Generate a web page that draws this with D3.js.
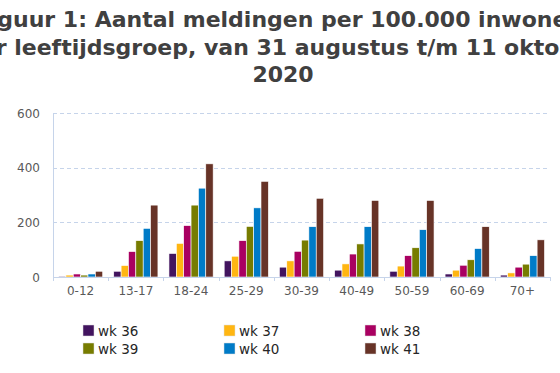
<!DOCTYPE html>
<html>
<head>
<meta charset="utf-8">
<script src="https://cdn.jsdelivr.net/npm/d3@7"></script>
<style>
  body { margin: 0; background: #fff; overflow: hidden; }
  svg { display: block; }
</style>
</head>
<body>
<div id="chart"></div>
<script>
var titleLines = ['Figuur 1: Aantal meldingen per 100.000 inwoners',
                  'per leeftijdsgroep, van 31 augustus t/m 11 oktober',
                  '2020'];
var categories = ['0-12', '13-17', '18-24', '25-29', '30-39', '40-49', '50-59', '60-69', '70+'];
var seriesNames = ['wk 36', 'wk 37', 'wk 38', 'wk 39', 'wk 40', 'wk 41'];
var seriesColors = ['#42145f', '#ffb612', '#a90061', '#777c00', '#007bc7', '#673327'];
var wk36 = [3, 21, 86, 59, 36, 25, 21, 11, 7];
var wk37 = [7, 42, 123, 76, 59, 48, 40, 25, 15];
var wk38 = [11, 93, 188, 133, 94, 84, 78, 43, 36];
var wk39 = [7, 133, 263, 185, 135, 121, 107, 63, 47];
var wk40 = [11, 178, 325, 253, 184, 184, 173, 104, 78];
var wk41 = [21, 263, 414, 350, 288, 280, 280, 184, 136];
var yTicks = [0, 200, 400, 600];

var series = [wk36, wk37, wk38, wk39, wk40, wk41];

var width = 560, height = 373;
var margin = {left: 53, right: 10, top: 113, bottom: 96};

var svg = d3.select('#chart').append('svg')
    .attr('width', width)
    .attr('height', height);

// title: centered, wider than the window (clipped like the original)
svg.append('g').selectAll('text')
    .data(titleLines)
    .enter().append('text')
    .attr('x', 283)
    .attr('y', function(d, i) { return 27 + i * 27.5; })
    .attr('text-anchor', 'middle')
    .style('font-family', 'DejaVu Sans')
    .style('font-weight', 'bold')
    .style('font-size', '22px')
    .style('fill', '#404040')
    .text(function(d) { return d; });

var x0 = d3.scaleBand()
    .domain(categories)
    .range([margin.left, width - margin.right])
    .paddingInner(0.2)
    .paddingOuter(0.1);

var x1 = d3.scaleBand()
    .domain(d3.range(seriesNames.length))
    .range([0, x0.bandwidth()]);

var y = d3.scaleLinear()
    .domain([0, 600])
    .range([height - margin.bottom, margin.top]);

// grid
svg.append('g').selectAll('line')
    .data(yTicks.slice(1))
    .enter().append('line')
    .attr('x1', margin.left)
    .attr('x2', width - margin.right)
    .attr('y1', function(d) { return Math.round(y(d)) + 0.5; })
    .attr('y2', function(d) { return Math.round(y(d)) + 0.5; })
    .style('stroke', '#c6d4ea')
    .style('stroke-dasharray', '4,3');

// y labels
svg.append('g').selectAll('text')
    .data(yTicks)
    .enter().append('text')
    .attr('x', 40)
    .attr('y', function(d) { return y(d) + 4.5; })
    .attr('text-anchor', 'end')
    .style('font-family', 'DejaVu Sans')
    .style('font-size', '12px')
    .style('fill', '#595959')
    .text(function(d) { return d; });

// bars
var groups = svg.append('g').selectAll('g')
    .data(categories)
    .enter().append('g')
    .attr('transform', function(d) { return 'translate(' + x0(d) + ',0)'; });

groups.selectAll('rect')
    .data(function(d, ci) {
        return series.map(function(s, si) { return {si: si, v: s[ci]}; });
    })
    .enter().append('rect')
    .attr('x', function(d) { return x1(d.si); })
    .attr('width', x1.bandwidth())
    .attr('y', function(d) { return y(d.v); })
    .attr('height', function(d) { return y(0) - y(d.v); })
    .style('fill', function(d) { return seriesColors[d.si]; })
    .style('stroke', '#ffffff')
    .style('stroke-width', 0.6);

// axes lines
var axisColor = '#c6d4ea';
svg.append('line')
    .attr('x1', margin.left + 0.5).attr('x2', margin.left + 0.5)
    .attr('y1', y(600)).attr('y2', y(0))
    .style('stroke', axisColor);
svg.append('line')
    .attr('x1', margin.left).attr('x2', width - margin.right)
    .attr('y1', Math.round(y(0)) + 0.5).attr('y2', Math.round(y(0)) + 0.5)
    .style('stroke', axisColor);

// category tick marks at band boundaries
var step = x0.step();
svg.append('g').selectAll('line')
    .data(d3.range(categories.length + 1))
    .enter().append('line')
    .attr('x1', function(i) { return Math.round(margin.left + i * step) + 0.5; })
    .attr('x2', function(i) { return Math.round(margin.left + i * step) + 0.5; })
    .attr('y1', y(0))
    .attr('y2', y(0) + 4)
    .style('stroke', axisColor);

// x labels
svg.append('g').selectAll('text')
    .data(categories)
    .enter().append('text')
    .attr('x', function(d) { return x0(d) + x0.bandwidth() / 2; })
    .attr('y', y(0) + 18)
    .attr('text-anchor', 'middle')
    .style('font-family', 'DejaVu Sans')
    .style('font-size', '12px')
    .style('fill', '#595959')
    .text(function(d) { return d; });

// legend
var legend = svg.append('g').selectAll('g')
    .data(seriesNames)
    .enter().append('g')
    .attr('transform', function(d, i) {
        var col = i % 3, row = Math.floor(i / 3);
        return 'translate(' + (83 + col * 141) + ',' + (325 + row * 18) + ')';
    });
legend.append('rect')
    .attr('width', 11)
    .attr('height', 11)
    .style('fill', function(d, i) { return seriesColors[i]; })
    .style('stroke', '#dddddd')
    .style('stroke-width', 0.5);
legend.append('text')
    .attr('x', 15)
    .attr('y', 10.5)
    .style('font-family', 'DejaVu Sans')
    .style('font-size', '13.5px')
    .style('fill', '#262626')
    .text(function(d) { return d; });
</script>
</body>
</html>
